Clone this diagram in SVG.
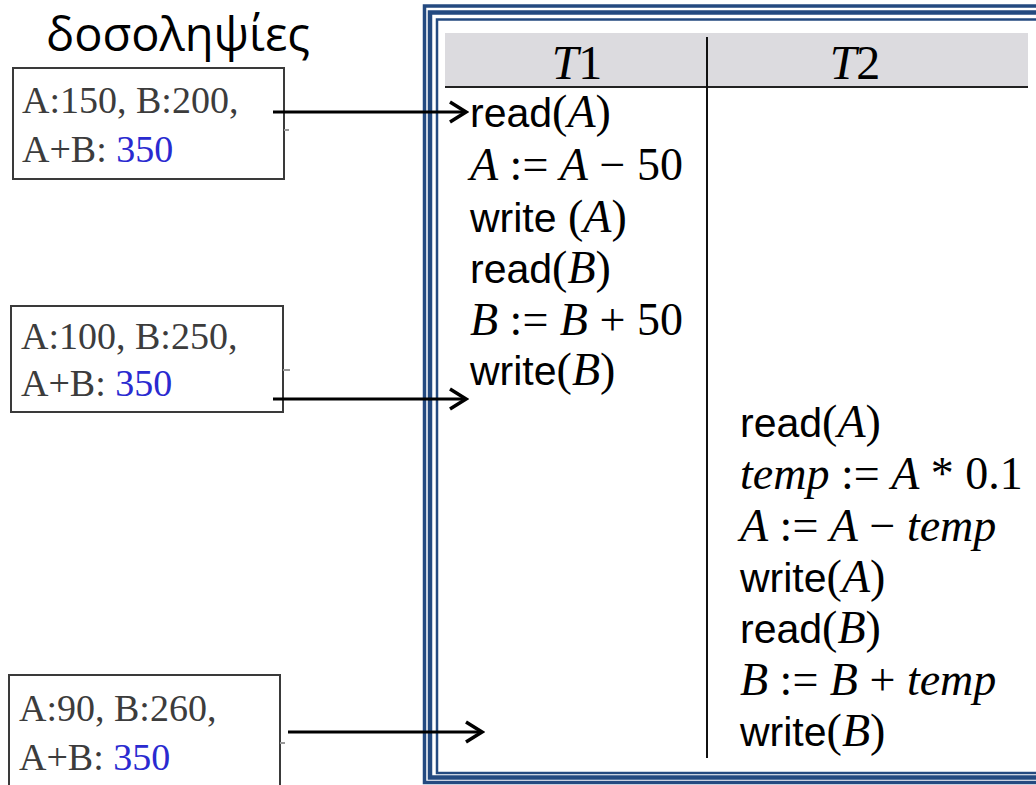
<svg xmlns="http://www.w3.org/2000/svg" width="1036" height="785" viewBox="0 0 1036 785">
<style>
.sans{font-family:"Liberation Sans",Arial,sans-serif;font-size:41px;fill:#000}
.ser{font-family:"Liberation Serif","Times New Roman",serif;font-size:46px;fill:#000}
.hdr{font-family:"Liberation Serif","Times New Roman",serif;font-size:48px;fill:#000}
.it{font-style:italic}
.box{fill:#fff;stroke:#3a3a3a;stroke-width:2}
.bt{font-family:"Liberation Serif","Times New Roman",serif;font-size:38px;fill:#3c3c3c}
.blue{fill:#2a2ad0}
.frame{fill:none;stroke:#244a80}
.conn{stroke:#000;stroke-width:3;fill:none}
.tick{stroke:#999;stroke-width:2}
.title{font-family:"Open Sans","Noto Sans",sans-serif;font-size:47px;fill:#000}
</style>
<defs>
<marker id="ah" viewBox="-20 -13 23 26" refX="0" refY="0" markerWidth="23" markerHeight="26" markerUnits="userSpaceOnUse" orient="auto">
<path d="M-16,-10 L0,0 L-16,10" fill="none" stroke="#000" stroke-width="3.5"/>
</marker>
</defs>
<rect width="1036" height="785" fill="#fff"/>

<g id="title"><text class="title" x="46" y="51">δοσοληψίες</text></g>

<g id="state1">
<rect class="box" x="13" y="68" width="271" height="111"/>
<line class="tick" x1="284" y1="130" x2="289" y2="130"/>
<text class="bt" x="22" y="113">A:150, B:200,</text>
<text class="bt" x="22" y="162">A+B: <tspan class="blue">350</tspan></text>
</g>
<g id="state2">
<rect class="box" x="11" y="306" width="272" height="106"/>
<line class="tick" x1="283" y1="370" x2="290" y2="370"/>
<text class="bt" x="21" y="349">A:100, B:250,</text>
<text class="bt" x="21" y="396">A+B: <tspan class="blue">350</tspan></text>
</g>
<g id="state3">
<rect class="box" x="9" y="675" width="271" height="120"/>
<line class="tick" x1="280" y1="743" x2="285" y2="743"/>
<text class="bt" x="19" y="721">A:90, B:260,</text>
<text class="bt" x="19" y="770">A+B: <tspan class="blue">350</tspan></text>
</g>

<g id="schedule">
<rect class="frame" x="424.5" y="6" width="640" height="776.5" stroke-width="3.5"/>
<rect class="frame" x="430" y="12.5" width="640" height="765" stroke-width="4.5"/>
<rect class="frame" x="437" y="19.5" width="640" height="753.5" stroke-width="2.5"/>
<rect x="445" y="33" width="583" height="54" fill="#dcdbdf"/>
<line x1="445" y1="87" x2="1028" y2="87" stroke="#222" stroke-width="2"/>
<line x1="707" y1="37" x2="707" y2="758" stroke="#111" stroke-width="2"/>
<text class="hdr" x="577" y="79" text-anchor="middle"><tspan class="it">T</tspan>1</text>
<text class="hdr" x="855" y="79" text-anchor="middle"><tspan class="it">T</tspan>2</text>

<text x="470" y="127"><tspan class="sans">read</tspan><tspan class="ser">(<tspan class="it">A</tspan>)</tspan></text>
<text x="470" y="180" class="ser"><tspan class="it">A</tspan> := <tspan class="it">A</tspan> − 50</text>
<text x="470" y="232"><tspan class="sans">write </tspan><tspan class="ser">(<tspan class="it">A</tspan>)</tspan></text>
<text x="470" y="283"><tspan class="sans">read</tspan><tspan class="ser">(<tspan class="it">B</tspan>)</tspan></text>
<text x="470" y="335" class="ser"><tspan class="it">B</tspan> := <tspan class="it">B</tspan> + 50</text>
<text x="470" y="385"><tspan class="sans">write</tspan><tspan class="ser">(<tspan class="it">B</tspan>)</tspan></text>

<text x="740" y="437"><tspan class="sans">read</tspan><tspan class="ser">(<tspan class="it">A</tspan>)</tspan></text>
<text x="740" y="489" class="ser"><tspan class="it">temp</tspan> := <tspan class="it">A</tspan> * 0.1</text>
<text x="740" y="541" class="ser"><tspan class="it">A</tspan> := <tspan class="it">A</tspan> −  <tspan class="it">temp</tspan></text>
<text x="740" y="592"><tspan class="sans">write</tspan><tspan class="ser">(<tspan class="it">A</tspan>)</tspan></text>
<text x="740" y="643"><tspan class="sans">read</tspan><tspan class="ser">(<tspan class="it">B</tspan>)</tspan></text>
<text x="740" y="695" class="ser"><tspan class="it">B</tspan> := <tspan class="it">B</tspan> + <tspan class="it">temp</tspan></text>
<text x="740" y="746"><tspan class="sans">write</tspan><tspan class="ser">(<tspan class="it">B</tspan>)</tspan></text>
</g>

<g id="connectors">
<line class="conn" x1="273" y1="112" x2="466" y2="112" marker-end="url(#ah)"/>
<line class="conn" x1="273" y1="399" x2="466" y2="399" marker-end="url(#ah)"/>
<line class="conn" x1="288" y1="732" x2="482" y2="732" marker-end="url(#ah)"/>
</g>
</svg>
